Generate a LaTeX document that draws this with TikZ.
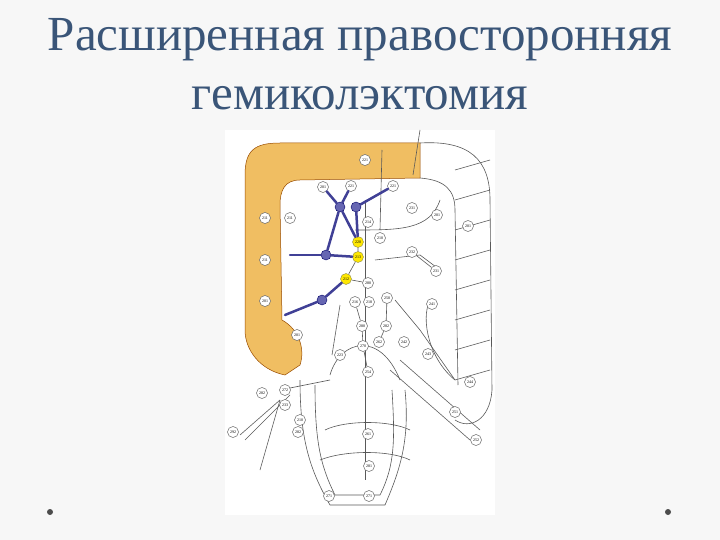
\documentclass[tikz,border=0pt]{standalone}
\usepackage{fontspec}
\setmainfont{Liberation Serif}
\definecolor{ttlc}{HTML}{3A5578}
\definecolor{orc}{HTML}{F0BE62}
\begin{document}
\begin{tikzpicture}[x=1pt,y=-1pt,
 nd/.style={circle,draw=gray!80!black,fill=white,line width=0.5pt,minimum size=11pt,inner sep=0pt,font=\fontsize{4}{4}\selectfont},
 bn/.style={circle,draw=blue!40!black,fill=blue!50!black!60!white,minimum size=10pt,inner sep=0pt},
 yn/.style={circle,draw=yellow!50!black,fill=yellow!90!orange,minimum size=11pt,inner sep=0pt,font=\fontsize{4}{4}\selectfont},
 ves/.style={draw=gray!70!black,line width=0.6pt},
 bv/.style={draw=blue!45!black!75!white,line width=2.5pt,line cap=round},
 ttl/.style={font=\fontsize{49}{49}\selectfont,text=ttlc}]
\useasboundingbox (0,0) rectangle (720,540);
\fill[gray!6] (0,0) rectangle (720,540);
\fill[white] (225,130) rectangle (495,515);
\node[ttl] (t1) at (360,40) {Расширенная правосторонняя};
\node[ttl] (t2) at (360,98) {гемиколэктомия};
% orange colon
\fill[orc,draw=orange!60!black,line width=0.5pt]
 (245,175) .. controls (245,150) and (255,143) .. (280,143) -- (420,143) -- (420,178) -- (300,180)
 .. controls (285,180) and (280,190) .. (280,205) -- (282,320) .. controls (300,330) and (305,350) .. (300,365)
 -- (285,375) .. controls (260,370) and (245,350) .. (245,330) -- cycle;
% gray colon outline
\draw[ves] (420,143) .. controls (470,140) and (490,160) .. (490,200) -- (492,390) .. controls (490,420) and (470,430) .. (455,420);
\draw[ves] (420,178) .. controls (445,180) and (455,190) .. (455,210) -- (458,385);
\foreach \y in {160,190,220,250,280,310,340,370}{\draw[ves] (455,\y+10) -- (490,\y);}
\draw[ves] (420,130) -- (413,175);
\draw[ves] (430,300) .. controls (420,320) and (430,360) .. (455,380);
% rectal part
\draw[ves] (300,380) .. controls (300,440) and (310,470) .. (330,505) -- (385,505) .. controls (400,470) and (410,440) .. (405,390);
\draw[ves] (315,385) .. controls (315,440) and (320,465) .. (335,495) -- (380,495) .. controls (395,465) and (395,440) .. (392,390);
% vessels
\draw[ves] (365,200) -- (365,480);
\draw[ves] (280,400) -- (240,435);
\draw[ves] (290,395) -- (245,440);
\draw[ves] (330,380) -- (280,390);
\draw[ves] (390,370) -- (470,440);
\draw[ves] (400,360) -- (480,430);
\draw[ves] (395,300) -- (420,330) -- (455,380);
\draw[ves] (330,375) .. controls (340,340) and (380,330) .. (400,380);
\draw[ves] (325,430) .. controls (345,420) and (390,420) .. (410,430);
\draw[ves] (320,460) .. controls (345,450) and (390,450) .. (410,460);
\draw[ves] (382,150) -- (380,230);
\draw[ves] (355,230) .. controls (400,230) and (430,230) .. (440,200);
\draw[ves] (375,260) -- (420,255) -- (440,270);
\draw[ves] (260,470) -- (280,400);
\draw[ves] (340,305) -- (332,355);
% nodes
\node[nd] (a1) at (365,160) {221};
\node[nd] (a2) at (323,187) {201};
\node[nd] (a3) at (351,186) {221};
\node[nd] (a4) at (393,186) {221};
\node[nd] (a5) at (265,218) {211};
\node[nd] (a6) at (290,218) {211};
\node[bn] (b1) at (340,207) {};
\node[bn] (b2) at (356,207) {};
\node[nd] (a7) at (368,222) {214};
\node[nd] (a8) at (380,238) {210};
\node[yn] (y1) at (358,242) {220};
\node[yn] (y2) at (358,257) {213};
\node[bn] (b3) at (326,255) {};
\node[nd] (a9) at (265,260) {211};
\node[yn] (y3) at (346,279) {212};
\node[nd] (a10) at (368,283) {280};
\node[nd] (a11) at (265,301) {201};
\node[bn] (b4) at (322,300) {};
\node[nd] (a12) at (297,335) {201};
\node[nd] (a13) at (355,302) {216};
\node[nd] (a14) at (369,302) {218};
\node[nd] (a15) at (387,298) {250};
\node[nd] (a16) at (362,326) {280};
\node[nd] (a17) at (386,326) {282};
\node[nd] (a18) at (379,342) {262};
\node[nd] (a19) at (363,346) {270};
\node[nd] (a20) at (340,355) {223};
\node[nd] (a21) at (368,372) {254};
\node[nd] (a22) at (428,354) {243};
\node[nd] (a23) at (404,342) {242};
\node[nd] (a24) at (412,252) {232};
\node[nd] (a25) at (436,271) {231};
\node[nd] (a26) at (437,215) {201};
\node[nd] (a27) at (468,226) {201};
\node[nd] (a28) at (432,304) {241};
\node[nd] (a29) at (470,382) {244};
\node[nd] (a30) at (455,412) {251};
\node[nd] (a31) at (476,440) {252};
\node[nd] (a32) at (368,434) {261};
\node[nd] (a33) at (369,466) {281};
\node[nd] (a34) at (329,496) {271};
\node[nd] (a35) at (369,496) {271};
\node[nd] (a36) at (285,390) {272};
\node[nd] (a37) at (285,405) {233};
\node[nd] (a38) at (262,393) {282};
\node[nd] (a39) at (300,420) {210};
\node[nd] (a40) at (298,432) {282};
\node[nd] (a41) at (233,432) {292};
\node[nd] (a42) at (412,208) {231};
% blue vessels
\draw[bv] (b1) -- (a3);
\draw[bv] (b2) -- (a4);
\draw[bv] (b1) -- (a2);
\draw[bv] (b1) -- (y1);
\draw[bv] (b2) -- (y1);
\draw[bv] (b3) -- (y2);
\draw[bv] (b3) -- (290,255);
\draw[bv] (b4) -- (y3);
\draw[bv] (b4) -- (285,315);
\draw[bv] (b3) -- (b1);
\draw[ves] (y1) -- (y2) -- (y3) -- (a10);
\draw[ves] (a13) -- (a16) -- (a19) -- (a21);
\draw[ves] (a15) -- (a17) -- (a18);
\draw[ves] (a24) -- (a25);
\fill[gray!60!black] (50,512) circle (3);
\fill[gray!60!black] (668,512) circle (3);
\end{tikzpicture}
\end{document}
